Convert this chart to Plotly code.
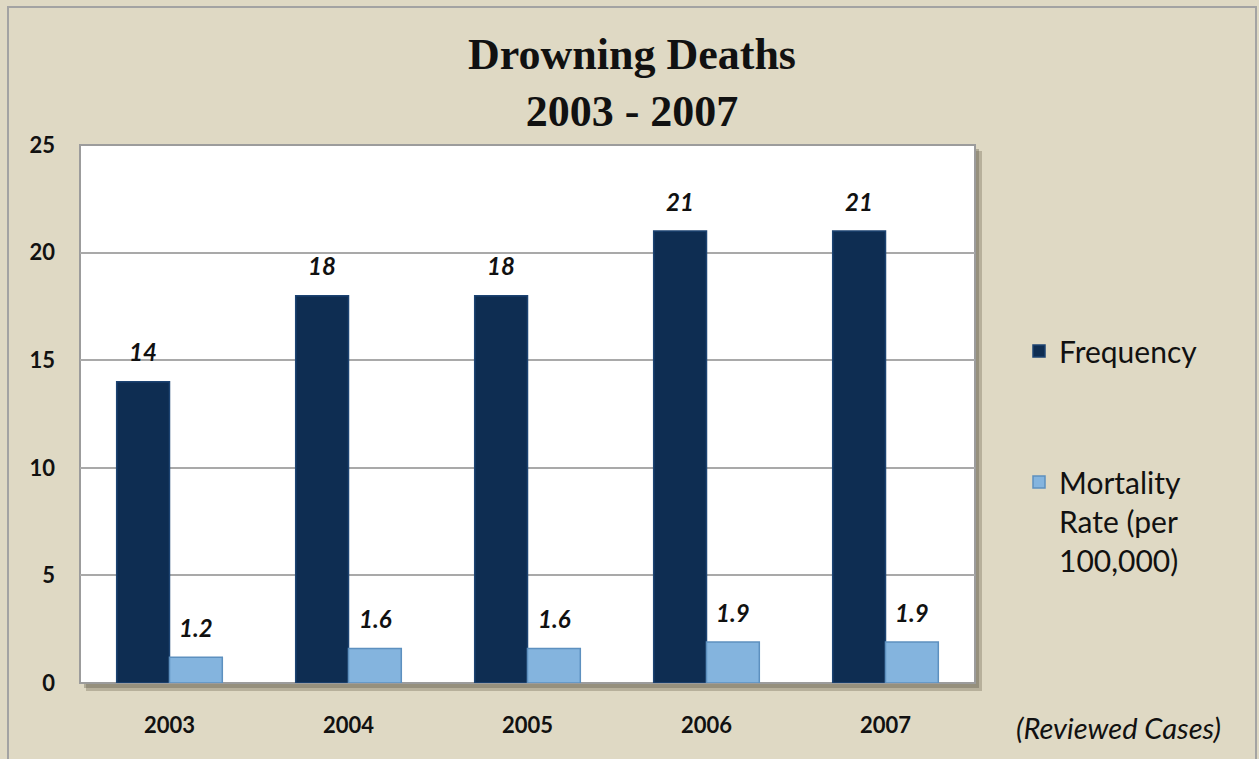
import plotly.graph_objects as go

# Drowning deaths by year (reviewed cases)
years = ["2003", "2004", "2005", "2006", "2007"]
frequency = [14, 18, 18, 21, 21]
mortality_rate = [1.2, 1.6, 1.6, 1.9, 1.9]
y_ticks = [0, 5, 10, 15, 20, 25]

W, H = 1259, 759
L, R, T, B = 80, 284, 145, 76
pw, ph = W - L - R, H - T - B

BG = "#dfd9c4"
NAVY = "#0e2d52"
SKY = "#84b4de"
TXT_FONT = "Lato"


def px_x(p):
    return (p - L) / pw


def px_y(p):
    return (H - B - p) / ph


fig = go.Figure()
fig.add_trace(go.Bar(
    x=years, y=frequency, name="Frequency", legendgroup="f",
    marker=dict(color=NAVY, line=dict(color="#1c4372", width=1.5)),
))
fig.add_trace(go.Bar(
    x=years, y=mortality_rate, name="Mortality<br>Rate (per<br>100,000)", legendgroup="m",
    marker=dict(color=SKY, line=dict(color="#5d90bf", width=1.5)),
))

# value labels above each bar (x given as category index)
annotations = []
for series, shift in ((frequency, -26.5), (mortality_rate, 26.5)):
    for i, v in enumerate(series):
        annotations.append(dict(
            x=i, y=v, xref="x", yref="y", text=f"{v:g}", showarrow=False,
            xshift=shift, yshift=30, yanchor="middle",
            font=dict(family=TXT_FONT, size=24, color="#111111", weight="bold", style="italic"),
        ))

annotations.append(dict(
    x=px_x(1118), y=px_y(727), xref="paper", yref="paper", text="(Reviewed Cases)",
    showarrow=False, xanchor="center", yanchor="middle",
    font=dict(family=TXT_FONT, size=29, color="#111111", style="italic"),
))

shapes = [
    # outer frame
    dict(type="rect", xref="paper", yref="paper", layer="below",
         x0=px_x(8), x1=px_x(1256), y0=px_y(770), y1=px_y(7),
         line=dict(color="#a3a3a3", width=2), fillcolor="rgba(0,0,0,0)"),
    # drop shadow of the plot area
    dict(type="rect", xref="x domain", yref="y domain", layer="below",
         x0=6 / pw, x1=1 + 7 / pw, y0=-8 / ph, y1=1 - 6 / ph,
         line=dict(width=0), fillcolor="rgba(110,100,80,0.35)"),
    dict(type="rect", xref="x domain", yref="y domain", layer="below",
         x0=4 / pw, x1=1 + 4 / pw, y0=-5 / ph, y1=1 - 4 / ph,
         line=dict(width=0), fillcolor="rgba(90,85,70,0.35)"),
    # plot area
    dict(type="rect", xref="x domain", yref="y domain", layer="below",
         x0=0, x1=1, y0=0, y1=1,
         line=dict(color="#9c9c9c", width=2), fillcolor="white"),
]

fig.update_layout(
    width=W, height=H,
    margin=dict(l=L, r=R, t=T, b=B),
    paper_bgcolor=BG, plot_bgcolor="rgba(0,0,0,0)",
    barmode="group", bargap=0.41, bargroupgap=0,
    title=dict(
        text="Drowning Deaths<br>2003 - 2007",
        x=632 / W, xanchor="center", y=1 - 69 / H, yanchor="middle",
        font=dict(family="Liberation Serif", size=44, color="#111111", weight="bold"),
    ),
    xaxis=dict(
        type="category", range=[-0.5, len(years) - 0.5], autorange=False,
        showgrid=False, showline=False, ticks="", ticklabelstandoff=27,
        tickfont=dict(family=TXT_FONT, size=22, color="#111111", weight="bold"),
    ),
    yaxis=dict(
        range=[0, 25], autorange=False, tickvals=y_ticks, showgrid=True,
        gridcolor="#a9a9a9", gridwidth=1.5,
        zeroline=False, showline=False, ticks="", ticklabelstandoff=24,
        tickfont=dict(family=TXT_FONT, size=22, color="#111111", weight="bold"),
    ),
    legend=dict(
        x=px_x(1019), y=px_y(325), xanchor="left", yanchor="top",
        bgcolor="rgba(0,0,0,0)", tracegroupgap=89, valign="top",
        traceorder="grouped",
        font=dict(family=TXT_FONT, size=30, color="#111111"),
    ),
    annotations=annotations,
    shapes=shapes,
)

fig.write_html("out.html")
